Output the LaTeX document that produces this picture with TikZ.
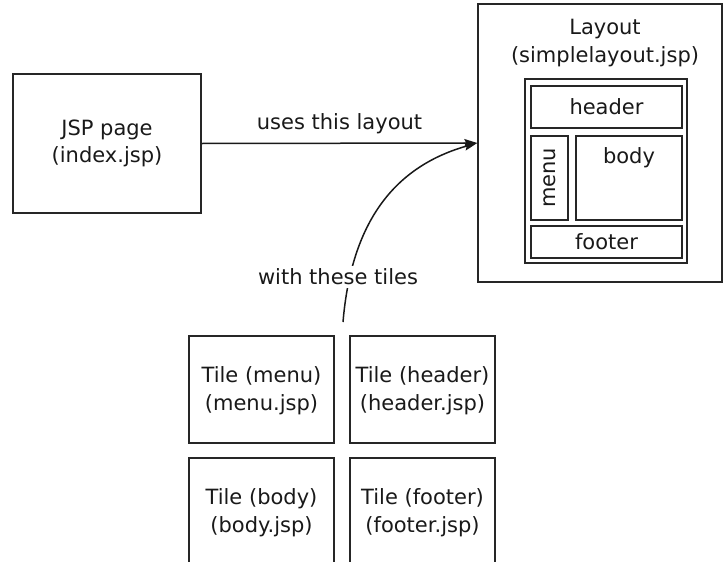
\documentclass[tikz,border=0pt]{standalone}
\usepackage{fontspec}
\setmainfont{DejaVu Sans}
\usetikzlibrary{arrows.meta}
\begin{document}
\begin{tikzpicture}[x=1pt,y=-1pt,
  box/.style={draw=black!85,line width=1.5pt,inner sep=0pt,rectangle},
  txt/.style={align=center,inner sep=0pt,text=black!90,font=\fontsize{21}{27.5}\selectfont},
  conn/.style={line width=1.5pt,draw=black!90,-{Stealth[length=13pt,width=8pt,inset=2pt]}}]
\useasboundingbox (0,0) rectangle (723,562);
\clip (0,0) rectangle (723,562);
% JSP page
\node[box,minimum width=188pt,minimum height=139pt] (jsp) at (107,143.5) {};
\node[txt] (jsptxt) at (107,143.5) {JSP page\\(index.jsp)};
% Layout
\node[box,minimum width=244pt,minimum height=278pt] (layout) at (600,143) {};
\node[txt] (layouttxt) at (605,43) {Layout\\(simplelayout.jsp)};
\node[box,minimum width=162pt,minimum height=184pt] (frame) at (606,171) {};
\node[box,minimum width=151pt,minimum height=42pt] (header) at (606.5,107) {};
\node[txt] (headertxt) at (606.5,107) {header};
\node[box,minimum width=37pt,minimum height=84pt] (menu) at (549.5,178) {};
\node[txt,rotate=90] (menutxt) at (549.5,178) {menu};
\node[box,minimum width=106pt,minimum height=84pt] (body) at (629,178) {};
\node[txt,anchor=north] (bodytxt) at (629,147) {body};
\node[box,minimum width=151pt,minimum height=32pt] (footer) at (606.5,242) {};
\node[txt] (footertxt) at (606.5,242) {footer};
% Tiles
\node[box,minimum width=145pt,minimum height=107pt] (tmenu) at (261.5,389.5) {};
\node[txt] at (261.5,390.5) {Tile (menu)\\(menu.jsp)};
\node[box,minimum width=145pt,minimum height=107pt] (theader) at (422.5,389.5) {};
\node[txt] at (422.5,390.5) {Tile (header)\\(header.jsp)};
\node[box,minimum width=145pt,minimum height=107pt] (tbody) at (261.5,511.5) {};
\node[txt] at (261.5,512.5) {Tile (body)\\(body.jsp)};
\node[box,minimum width=145pt,minimum height=107pt] (tfooter) at (422.5,511.5) {};
\node[txt] at (422.5,512.5) {Tile (footer)\\(footer.jsp)};
% connectors
\draw[conn] (jsp.east) -- node[txt,above=9pt] (uses) {uses this layout} (layout.west);
\coordinate (cstart) at (343,322);
\draw[conn] (cstart) .. controls (352,215) and (400,165) .. (layout.west);
\node[txt,fill=white,inner sep=3pt] (with) at (338,277) {with these tiles};
\end{tikzpicture}
\end{document}
